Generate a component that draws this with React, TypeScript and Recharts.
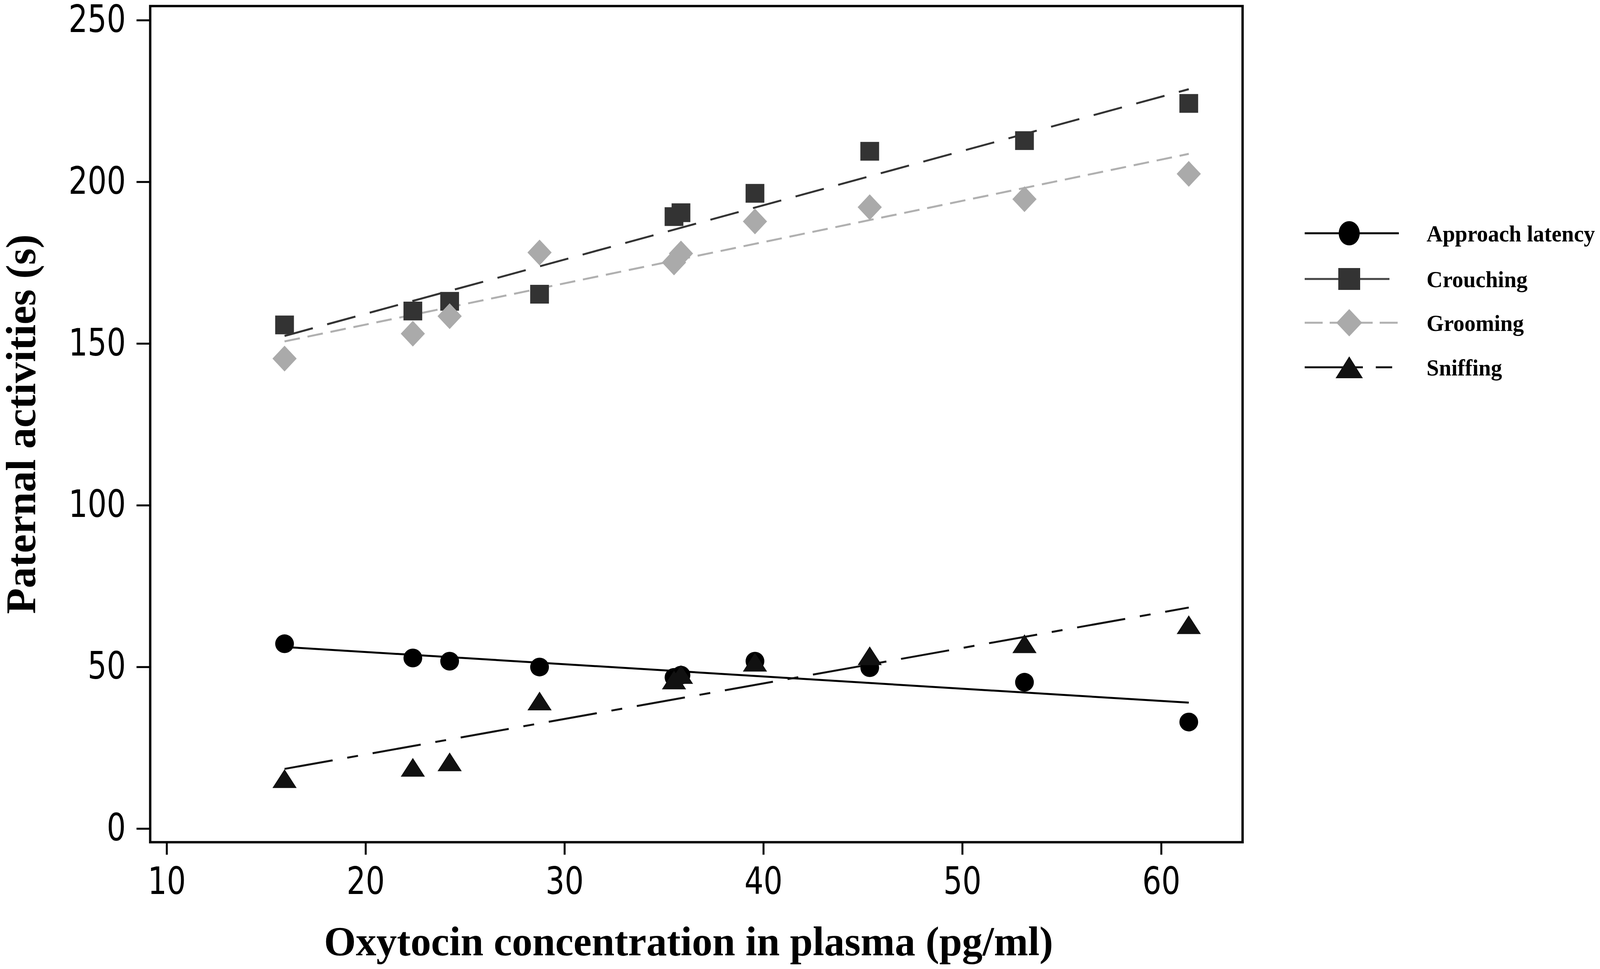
import React from 'react';
import {
  ComposedChart,
  Line,
  Scatter,
  XAxis,
  YAxis,
  ReferenceArea,
  Legend,
} from 'recharts';

// ---- data ----
const oxytocin = [15.92, 22.37, 24.22, 28.74, 35.5, 35.85, 39.57, 45.34, 53.12, 61.38];
const approachLatency = [57.2, 52.8, 51.8, 50.0, 46.8, 47.5, 51.8, 49.8, 45.3, 33.0];
const crouching = [155.8, 160.1, 163.1, 165.3, 189.3, 190.5, 196.5, 209.5, 212.8, 224.3];
const grooming = [145.4, 153.1, 158.5, 178.2, 175.1, 177.9, 187.8, 192.2, 194.7, 202.5];
const sniffing = [15.5, 19.0, 20.7, 39.5, 46.0, 47.7, 51.5, 53.5, 57.2, 63.1];

// fitted regression lines (end points)
const fitX = [15.92, 61.38];
const approachFit = [56.2, 39.0];
const crouchingFit = [152.4, 228.7];
const groomingFit = [150.7, 208.7];
const sniffingFit = [18.5, 68.4];

const seriesNames = ['Approach latency', 'Crouching', 'Grooming', 'Sniffing'];
const xTicks = [10, 20, 30, 40, 50, 60];
const yTicks = [0, 50, 100, 150, 200, 250];
const xDomain = [9.165, 64.085];
const yDomain = [-4.17, 254.41];

const xLabel = 'Oxytocin concentration in plasma (pg/ml)';
const yLabel = 'Paternal activities (s)';

const toPoints = (xs: number[], ys: number[]) => xs.map((x, i) => ({ x, y: ys[i] }));

const SERIF = '"Liberation Serif", "Times New Roman", serif';
const SANS = '"DejaVu Sans", Verdana, sans-serif';

// ---- marker shapes ----
const CircleMark = (p: any) => <circle cx={p.cx} cy={p.cy} r={24} fill="#000" />;
const SquareMark = (p: any) => (
  <rect x={p.cx - 24} y={p.cy - 24} width={48} height={48} fill="#333" />
);
const DiamondMark = (p: any) => (
  <polygon
    points={`${p.cx},${p.cy - 33} ${p.cx + 31},${p.cy} ${p.cx},${p.cy + 33} ${p.cx - 31},${p.cy}`}
    fill="#aaaaaa"
  />
);
const TriangleMark = (p: any) => (
  <polygon
    points={`${p.cx},${p.cy - 24} ${p.cx + 31},${p.cy + 24} ${p.cx - 31},${p.cy + 24}`}
    fill="#111"
  />
);

// ---- ticks ----
const YTick = (p: any) => (
  <g transform={`translate(${p.x},${p.y})`}>
    <text transform="scale(0.8,1)" textAnchor="end" dy={30} fontSize={96} fontFamily={SANS} fill="#000">
      {p.payload.value}
    </text>
  </g>
);
const XTick = (p: any) => (
  <g transform={`translate(${p.x},${p.y})`}>
    <text transform="scale(0.8,1)" textAnchor="middle" dy={100.5} fontSize={96} fontFamily={SANS} fill="#000">
      {p.payload.value}
    </text>
  </g>
);

const XLabel = (p: any) => {
  const vb = p.viewBox || {};
  return (
    <text
      x={vb.x + vb.width / 2 - 20}
      y={vb.y + 289.5}
      textAnchor="middle"
      fontSize={105}
      fontWeight="bold"
      fontFamily={SERIF}
      fill="#000"
    >
      {xLabel}
    </text>
  );
};
const YLabel = (p: any) => {
  const vb = p.viewBox || {};
  const cx = 82;
  const cy = vb.y + vb.height / 2;
  return (
    <text
      x={cx}
      y={cy}
      transform={`rotate(-90 ${cx} ${cy})`}
      textAnchor="middle"
      fontSize={108}
      fontWeight="bold"
      fontFamily={SERIF}
      fill="#000"
    >
      {yLabel}
    </text>
  );
};

// ---- legend ----
const LegendBox = () => {
  const rows = [49, 166, 278, 392];
  const lx1 = 10;
  const mx = 124;
  const tx = 322;
  return (
    <svg width={776} height={450} style={{ overflow: 'visible' }}>
      {/* Approach latency */}
      <line x1={lx1} x2={251} y1={rows[0]} y2={rows[0]} stroke="#000" strokeWidth={5} />
      <ellipse cx={mx} cy={rows[0]} rx={27} ry={31} fill="#000" />
      {/* Crouching */}
      <line x1={lx1} x2={227} y1={rows[1]} y2={rows[1]} stroke="#444" strokeWidth={5} />
      <rect x={mx - 28} y={rows[1] - 28} width={56} height={56} fill="#333" />
      {/* Grooming */}
      <line x1={lx1} x2={251} y1={rows[2]} y2={rows[2]} stroke="#b0b0b0" strokeWidth={5} strokeDasharray="46 18" />
      <polygon
        points={`${mx},${rows[2] - 35} ${mx + 33},${rows[2]} ${mx},${rows[2] + 35} ${mx - 33},${rows[2]}`}
        fill="#aaaaaa"
      />
      {/* Sniffing */}
      <line x1={lx1} x2={235} y1={rows[3]} y2={rows[3]} stroke="#111" strokeWidth={5} strokeDasharray="149 33 42 100" />
      <polygon
        points={`${mx},${rows[3] - 28} ${mx + 35},${rows[3] + 28} ${mx - 35},${rows[3] + 28}`}
        fill="#111"
      />
      {seriesNames.map((name, i) => (
        <text
          key={name}
          transform={`translate(${tx},${rows[i] + 21}) scale(0.95,1)`}
          fontSize={60}
          fontWeight="bold"
          fontFamily={SERIF}
          fill="#000"
        >
          {name}
        </text>
      ))}
    </svg>
  );
};

export default function App() {
  return (
    <div style={{ width: 4098, height: 2460, background: '#fff' }}>
      <ComposedChart width={4098} height={2460} margin={{ top: 7.5, right: 925, bottom: 0, left: 0 }}>
        <XAxis
          type="number"
          dataKey="x"
          domain={xDomain}
          ticks={xTicks}
          interval={0}
          allowDataOverflow
          axisLine={false}
          tickLine={{ stroke: '#000', strokeWidth: 5 }}
          tickSize={32}
          tickMargin={0}
          height={312.5}
          tick={<XTick />}
          label={<XLabel />}
        />
        <YAxis
          type="number"
          dataKey="y"
          domain={yDomain}
          ticks={yTicks}
          interval={0}
          allowDataOverflow
          axisLine={false}
          tickLine={{ stroke: '#000', strokeWidth: 5 }}
          tickSize={35}
          tickMargin={27.5}
          width={376.5}
          tick={<YTick />}
          label={<YLabel />}
        />
        <Line
          data={toPoints(fitX, approachFit)}
          dataKey="y"
          type="linear"
          stroke="#000"
          strokeWidth={5}
          dot={false}
          activeDot={false}
          legendType="none"
          isAnimationActive={false}
        />
        <Line
          data={toPoints(fitX, crouchingFit)}
          dataKey="y"
          type="linear"
          stroke="#333"
          strokeWidth={5}
          strokeDasharray="75 38"
          dot={false}
          activeDot={false}
          legendType="none"
          isAnimationActive={false}
        />
        <Line
          data={toPoints(fitX, groomingFit)}
          dataKey="y"
          type="linear"
          stroke="#b0b0b0"
          strokeWidth={5}
          strokeDasharray="40 20"
          dot={false}
          activeDot={false}
          legendType="none"
          isAnimationActive={false}
        />
        <Line
          data={toPoints(fitX, sniffingFit)}
          dataKey="y"
          type="linear"
          stroke="#111"
          strokeWidth={5}
          strokeDasharray="125 38 28 38"
          dot={false}
          activeDot={false}
          legendType="none"
          isAnimationActive={false}
        />
        <Scatter name={seriesNames[0]} data={toPoints(oxytocin, approachLatency)} shape={CircleMark} isAnimationActive={false} />
        <Scatter name={seriesNames[1]} data={toPoints(oxytocin, crouching)} shape={SquareMark} isAnimationActive={false} />
        <Scatter name={seriesNames[2]} data={toPoints(oxytocin, grooming)} shape={DiamondMark} isAnimationActive={false} />
        <Scatter name={seriesNames[3]} data={toPoints(oxytocin, sniffing)} shape={TriangleMark} isAnimationActive={false} />
        <ReferenceArea
          x1={xDomain[0]}
          x2={xDomain[1]}
          y1={yDomain[0]}
          y2={yDomain[1]}
          fill="none"
          fillOpacity={0}
          stroke="#000"
          strokeWidth={6}
          ifOverflow="visible"
        />
        <Legend
          layout="vertical"
          align="center"
          verticalAlign="middle"
          content={<LegendBox />}
          wrapperStyle={{ left: 3322, top: 540, width: 776, height: 450 }}
        />
      </ComposedChart>
    </div>
  );
}
